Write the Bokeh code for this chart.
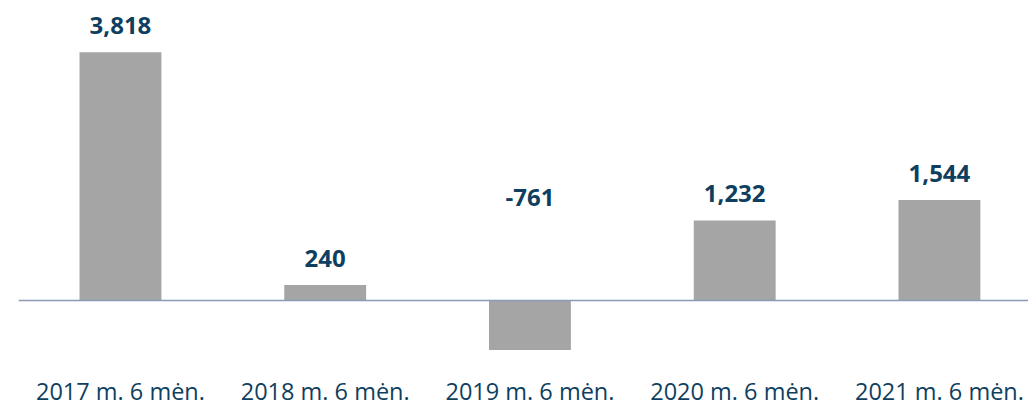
from bokeh.plotting import figure
from bokeh.models import ColumnDataSource, Range1d, Span, FixedTicker
from bokeh.core.properties import value
from bokeh.embed import file_html
from bokeh.resources import INLINE

categories = ["2017 m. 6 mėn.", "2018 m. 6 mėn.", "2019 m. 6 mėn.", "2020 m. 6 mėn.", "2021 m. 6 mėn."]
values = [3818, 240, -761, 1232, 1544]
labels = ["3,818", "240", "-761", "1,232", "1,544"]
label_anchor = [3818, 240, 1170, 1232, 1544]

xs = list(range(len(categories)))
src = ColumnDataSource(dict(x=xs, top=values, lab=labels, ly=label_anchor))

p = figure(frame_width=1010, frame_height=362, output_backend="svg", toolbar_location=None,
           x_range=Range1d(-0.498, 4.435), y_range=Range1d(-954, 4615),
           min_border_left=18, min_border_right=0, min_border_top=0, min_border_bottom=0)
p.outline_line_color = None
p.grid.visible = False
p.yaxis.visible = False

p.vbar(x="x", top="top", bottom=0, width=0.40, source=src, fill_color="#A5A5A5", line_color=None)
p.add_layout(Span(location=0, dimension="width", line_color="#8A9BB5", line_width=1.5))

p.text(x="x", y="ly", text="lab", source=src, text_align="center", text_baseline="bottom",
       y_offset=-18, text_font=value("Open Sans"), text_font_style="bold",
       text_font_size="24px", text_color="#0F3F60")

xa = p.xaxis[0]
xa.ticker = FixedTicker(ticks=xs)
xa.major_label_overrides = {i: c for i, c in enumerate(categories)}
xa.axis_line_color = None
xa.major_tick_line_color = None
xa.minor_tick_line_color = None
xa.major_label_text_font = "Open Sans"
xa.major_label_text_font_size = "23.5px"
xa.major_label_text_color = "#0F3F60"
xa.major_label_standoff = 6

open("out.html", "w").write(file_html(p, INLINE))
